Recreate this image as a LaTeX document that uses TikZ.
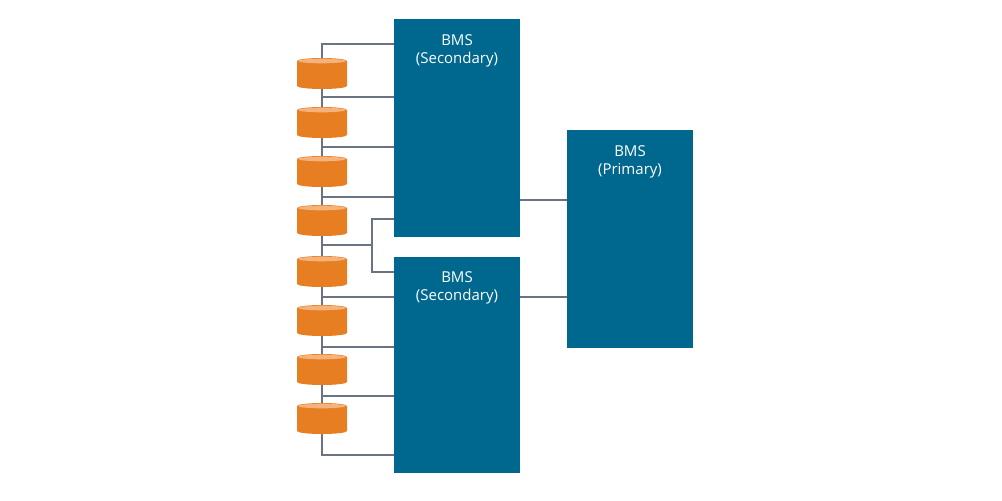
\documentclass[tikz,border=0pt]{standalone}
\usepackage{fontspec}
\setmainfont{Open Sans}
\definecolor{bmsblue}{HTML}{00688F}
\definecolor{cylor}{HTML}{E87E22}
\definecolor{cyltop}{HTML}{F4B27C}
\definecolor{wire}{HTML}{6B7383}
\begin{document}
\begin{tikzpicture}[x=1pt,y=-1pt,
  box/.style={fill=bmsblue,draw=none},
  lbl/.style={text=white,font=\fontsize{15}{18}\selectfont,align=center,anchor=north},
  wire/.style={draw=wire,line width=1.5pt}]
\useasboundingbox (0,0) rectangle (1002,501);
% boxes
\fill[bmsblue] (394,19) rectangle (520,237);
\fill[bmsblue] (394,257) rectangle (520,473);
\fill[bmsblue] (567,130) rectangle (693,348);
\node[lbl] (s1) at (457,31) {BMS\\(Secondary)};
\node[lbl] (s2) at (457,268) {BMS\\(Secondary)};
\node[lbl] (p) at (630,142) {BMS\\(Primary)};
\coordinate (a) at (520,200); \coordinate (b) at (567,200);
\coordinate (c) at (520,297); \coordinate (d) at (567,297);
\draw[wire] (a) -- (b); \draw[wire] (c) -- (d);
% wires
\draw[wire] (322,60) -- (322,44) -- (394,44);
\draw[wire] (322,60) -- (322,455) -- (394,455);
\foreach \y in {97,147,197,297,347,396} \draw[wire] (322,\y) -- (394,\y);
\draw[wire] (322,245) -- (372,245);
\draw[wire] (394,219) -- (372,219) -- (372,272) -- (394,272);
% cylinders
\foreach \t in {58,107,156,205,256,305,354,403}{
  \fill[cylor] (297,\t+3) -- (297,\t+28) arc[start angle=180,end angle=0,x radius=25,y radius=3] -- (347,\t+3) -- cycle;
  \fill[cylor] (322,\t+3) ellipse[x radius=25,y radius=3];
  \fill[cyltop] (322,\t+3) ellipse[x radius=24,y radius=2.3];
}
\end{tikzpicture}
\end{document}
